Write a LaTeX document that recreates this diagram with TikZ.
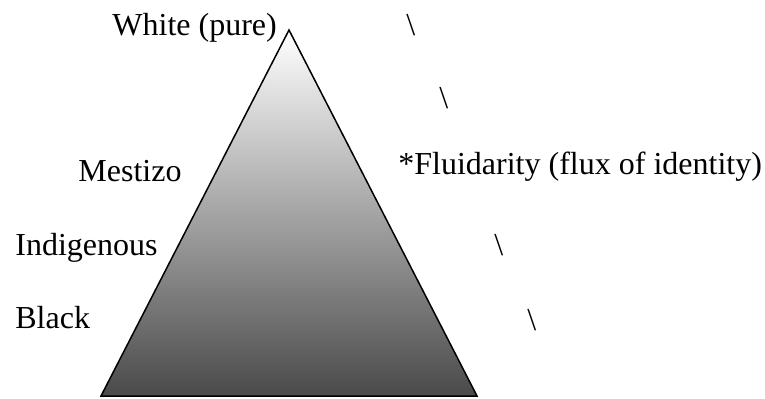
\documentclass[tikz,border=0pt]{standalone}
\usepackage{fontspec}
\setmainfont{Liberation Serif}

\tikzset{
  lbl/.style={anchor=base west, inner sep=0pt, font=\fontsize{16}{19}\selectfont},
  tri/.style={line width=0.75pt, line join=miter, top color=white, bottom color=black!71}
}

\begin{document}
\begin{tikzpicture}[x=0.5pt,y=-0.5pt]
\useasboundingbox (0,0) rectangle (765,398);

\coordinate (apex) at (289,30);
\coordinate (baseL) at (101,396);
\coordinate (baseR) at (477,396);
\draw[tri] (apex) -- (baseL) -- (baseR) -- cycle;

\node[lbl] (white) at (112,35) {White (pure)};
\node[lbl] (mestizo) at (78,181.5) {Mestizo};
\node[lbl] (indigenous) at (15,255) {Indigenous};
\node[lbl] (black) at (15,328) {Black};

\node[lbl] (fluid) at (398,174) {*Fluidarity (flux of identity)};

\node[lbl] (slash1) at (406,35) {\textbackslash};
\node[lbl] (slash2) at (439,108) {\textbackslash};
\node[lbl] (slash3) at (494,255) {\textbackslash};
\node[lbl] (slash4) at (527,330) {\textbackslash};
\end{tikzpicture}
\end{document}
